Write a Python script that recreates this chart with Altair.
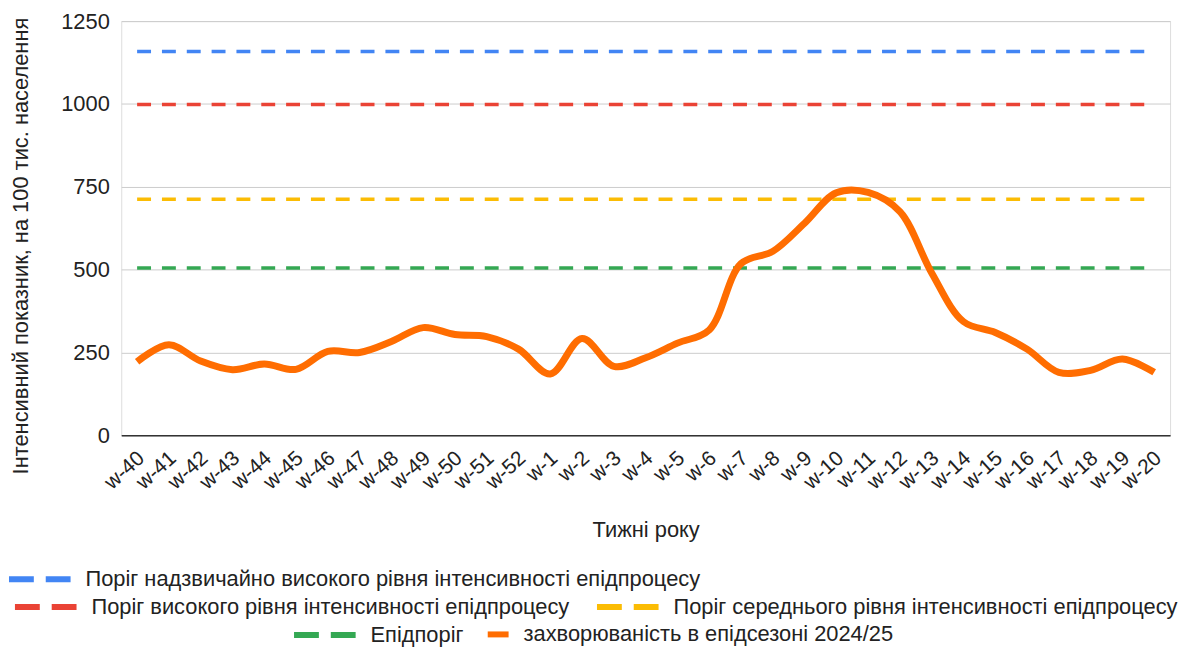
import altair as alt
import pandas as pd

weeks = ["w-40", "w-41", "w-42", "w-43", "w-44", "w-45", "w-46", "w-47", "w-48",
         "w-49", "w-50", "w-51", "w-52", "w-1", "w-2", "w-3", "w-4", "w-5", "w-6",
         "w-7", "w-8", "w-9", "w-10", "w-11", "w-12", "w-13", "w-14", "w-15",
         "w-16", "w-17", "w-18", "w-19", "w-20"]

incidence = [222, 273, 224, 198, 215, 199, 253, 250, 283,
             325, 304, 298, 260, 185, 292, 208, 234, 278, 318,
             518, 555, 640, 732, 733, 675, 490, 343, 310,
             260, 190, 196, 230, 190]

series_names = [
    "Поріг надзвичайно високого рівня інтенсивності епідпроцесу",
    "Поріг високого рівня інтенсивності епідпроцесу",
    "Поріг середнього рівня інтенсивності епідпроцесу",
    "Епідпоріг",
    "захворюваність в епідсезоні 2024/25",
]
thresholds = [1158, 998, 712, 505]
colors = ["#4285F4", "#EA4335", "#FBBC04", "#34A853", "#FF6D01"]
y_ticks = [0, 250, 500, 750, 1000, 1250]

rows = []
for name, val in zip(series_names[:4], thresholds):
    for i, w in enumerate(weeks):
        rows.append({"week": w, "order": i, "series": name, "value": val})
for i, (w, v) in enumerate(zip(weeks, incidence)):
    rows.append({"week": w, "order": i, "series": series_names[4], "value": v})
df = pd.DataFrame(rows)

FONT = "Liberation Sans"
TXT = "#222222"
FS = 22

x_enc = alt.X(
    "week:N", sort=weeks,
    scale=alt.Scale(type="point", padding=0.5),
    axis=alt.Axis(
        labelAngle=318, labelAlign="right", labelBaseline="middle",
        labelPadding=20, labelOffset=4, labelFontSize=21, labelColor=TXT,
        labelFont=FONT, ticks=False, grid=False, domainColor="#333333",
        domainWidth=1.5,
        title="Тижні року", titleFontSize=FS, titleFontWeight="normal",
        titleColor=TXT, titleFont=FONT, titleX=528, titleY=95,
        titleBaseline="middle", titleAlign="center", labelOverlap=False,
    ),
)
y_enc = alt.Y(
    "value:Q",
    scale=alt.Scale(domain=[0, 1250], nice=False),
    axis=alt.Axis(
        values=y_ticks, format="d", grid=True, gridColor="#cccccc",
        domain=False, ticks=False, tickSize=0, labelPadding=12,
        labelFontSize=FS, labelColor=TXT, labelFont=FONT,
        title="Інтенсивний показник, на 100 тис. населення",
        titleFontSize=FS, titleFontWeight="normal", titleColor=TXT,
        titleFont=FONT, titleX=-101, titleY=226, titleAngle=270,
        titleAlign="center", titleBaseline="middle",
    ),
)

# legend layout (relative to plot origin)
legend_pos = [(-116, 528), (-110, 556), (476, 556), (171, 584), (366, 604)]
dashes = [[25, 12], [25, 12], [25, 12], [25, 12], None]
sym_sizes = [3844, 3844, 3844, 3844, 441]

layers = []
for k, name in enumerate(series_names):
    is_main = k == 4
    mark_kwargs = dict(strokeWidth=7 if is_main else 3.5,
                       interpolate="catmull-rom" if is_main else "linear")
    if not is_main:
        mark_kwargs["strokeDash"] = [14, 11]
    leg_kwargs = dict(
        title=None, orient="none", legendX=legend_pos[k][0],
        legendY=legend_pos[k][1], direction="horizontal",
        symbolType="stroke", symbolSize=sym_sizes[k], symbolStrokeWidth=6,
        labelFontSize=FS, labelFont=FONT, labelColor=TXT, labelOffset=12,
        padding=0, labelLimit=0,
    )
    if dashes[k] is not None:
        leg_kwargs["symbolDash"] = dashes[k]
    layer = (
        alt.Chart(df)
        .transform_filter(alt.FieldEqualPredicate(field="series", equal=name))
        .mark_line(**mark_kwargs)
        .encode(
            x=x_enc,
            y=y_enc,
            order=alt.Order("order:Q"),
            color=alt.Color(
                "series:N",
                scale=alt.Scale(domain=[name], range=[colors[k]]),
                legend=alt.Legend(**leg_kwargs),
            ),
        )
    )
    layers.append(layer)

chart = (
    alt.layer(*layers)
    .resolve_scale(color="independent")
    .properties(
        width=1056, height=417,
        autosize=alt.AutoSizeParams(type="none"),
        padding={"left": 114, "top": 11, "right": 11, "bottom": 214},
        background="white",
    )
    .configure_view(stroke=None)
    .configure(font=FONT)
)

chart.save("out.html", embed_options={"renderer": "svg", "actions": False})
